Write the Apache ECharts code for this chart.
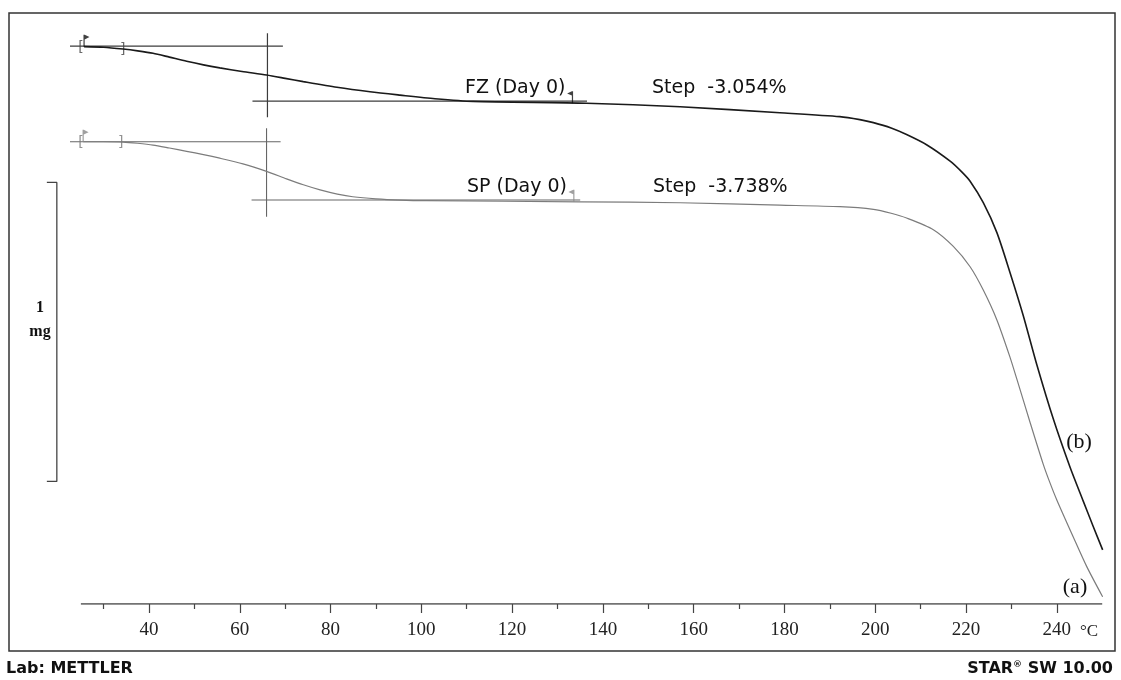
<!DOCTYPE html>
<html><head><meta charset="utf-8">
<script src="https://cdn.jsdelivr.net/npm/echarts@6/dist/echarts.min.js"></script>
<style>html,body{margin:0;padding:0;background:#fff}#c{width:1121px;height:680px}</style>
</head><body><div id="c"></div>
<script>
// ---- data (temperature in °C, mass in mg relative to the axis baseline) ----
const tempFZ = [25.7, 30.0, 34.3, 37.5, 40.9, 44.5, 48.3, 52.0, 55.6, 60.5, 65.9, 70.0, 74.0, 81.4, 88.7, 95.3, 103.0, 111.4, 136.4, 157.0, 179.0, 192.2, 196.6, 199.6, 203.5, 206.9, 211.3, 216.5, 219.0, 220.9, 223.8, 226.8, 229.7, 232.6, 235.6, 239.2, 242.9, 245.8, 248.0, 250.1];
const massFZ = [1.864, 1.862, 1.856, 1.850, 1.842, 1.829, 1.815, 1.803, 1.793, 1.781, 1.769, 1.758, 1.747, 1.728, 1.713, 1.702, 1.690, 1.681, 1.675, 1.663, 1.643, 1.630, 1.620, 1.610, 1.592, 1.570, 1.536, 1.481, 1.446, 1.414, 1.342, 1.242, 1.108, 0.965, 0.800, 0.620, 0.458, 0.345, 0.260, 0.181];
const tempSP = [25.5, 30.0, 34.3, 37.5, 40.9, 44.5, 48.3, 52.0, 55.6, 60.7, 65.9, 70.3, 74.0, 77.7, 81.5, 84.9, 90.0, 95.3, 101.2, 135.0, 157.0, 179.0, 192.2, 199.6, 203.5, 206.9, 212.8, 217.2, 220.9, 223.8, 226.8, 229.7, 231.2, 234.1, 237.0, 238.5, 240.0, 243.6, 246.6, 250.1];
const massSP = [1.546, 1.546, 1.545, 1.541, 1.535, 1.525, 1.514, 1.503, 1.491, 1.472, 1.447, 1.422, 1.402, 1.385, 1.371, 1.362, 1.355, 1.351, 1.349, 1.345, 1.342, 1.334, 1.329, 1.320, 1.307, 1.291, 1.252, 1.196, 1.128, 1.050, 0.950, 0.825, 0.752, 0.608, 0.468, 0.405, 0.348, 0.225, 0.125, 0.024];
const majorTicks = [40, 60, 80, 100, 120, 140, 160, 180, 200, 220, 240];
const minorTicks = [30, 50, 70, 90, 110, 130, 150, 170, 190, 210, 230];
const axisLineT = [25, 250];
const axisLineMg = [0, 0];
// step-evaluation construction lines [°C, mg]
const fzBaseline = [[22.6, 1.866], [69.5, 1.866]];
const fzVertical = [[66.1, 1.909], [66.1, 1.628]];
const fzFinal = [[62.8, 1.682], [136.5, 1.682]];
const spBaseline = [[22.6, 1.546], [69.0, 1.546]];
const spVertical = [[65.9, 1.591], [65.9, 1.295]];
const spFinal = [[62.6, 1.351], [135.0, 1.351]];
const fzLimits = [[25.0, 1.862, '['], [34.2, 1.855, ']']];
const spLimits = [[25.0, 1.545, '['], [33.8, 1.545, ']']];
const startFlags = [[25.7, 1.864], [25.5, 1.546]];
const labelFlags = [[133.3, 1.675], [133.6, 1.345]];
const scaleBarT = [17.5, 19.7, 19.7, 17.5];
const scaleBarMg = [1.41, 1.41, 0.41, 0.41];

const pts = (t, m) => t.map((x, i) => [x, m[i]]);
const chart = echarts.init(document.getElementById('c'));
const lineSeg = (data, color, width) => ({
  type: 'line', data, showSymbol: false, silent: true,
  lineStyle: { color, width }, z: 2
});
const flagR = 'path://M0,0 L1.2,0 L1.2,12 L0,12 Z M1.2,0 L6,2.4 L1.2,4.8 Z';
const flagL = 'path://M4.8,0 L6,0 L6,12 L4.8,12 Z M4.8,0 L0,2.2 L4.8,4.4 Z';
const bracketSeries = (arr, color) => ({
  type: 'scatter', silent: true, symbolSize: 0,
  data: arr.map(d => ({ value: [d[0], d[1]], txt: d[2] })),
  label: { show: true, position: 'inside', formatter: p => p.data.txt,
    fontFamily: 'DejaVu Sans', fontSize: 14, color }
});

chart.setOption({
  animation: false,
  backgroundColor: '#fff',
  grid: { left: 35.5, right: 18.8, top: 6, bottom: 76 },
  xAxis: [{
    type: 'value', min: 15, max: 250, position: 'bottom',
    axisLine: { show: false },
    axisTick: { show: true, customValues: majorTicks, length: 9, lineStyle: { color: '#444', width: 1.2 } },
    axisLabel: { show: true, customValues: majorTicks, margin: 17, fontFamily: 'Liberation Serif', fontSize: 19, color: '#222' },
    splitLine: { show: false }
  }, {
    type: 'value', min: 15, max: 250, position: 'bottom', gridIndex: 0,
    axisLine: { show: false },
    axisTick: { show: true, customValues: minorTicks, length: 5, lineStyle: { color: '#444', width: 1.2 } },
    axisLabel: { show: false },
    splitLine: { show: false }
  }],
  yAxis: { type: 'value', min: 0, max: 2, show: false },
  series: [
    { type: 'line', data: pts(tempSP, massSP), showSymbol: false, smooth: 0.25, silent: true,
      lineStyle: { color: '#7c7c7c', width: 1.2 }, z: 3 },
    { type: 'line', data: pts(tempFZ, massFZ), showSymbol: false, smooth: 0.25, silent: true,
      lineStyle: { color: '#1a1a1a', width: 1.6 }, z: 4 },
    lineSeg(pts(axisLineT, axisLineMg), '#444', 1.4),
    lineSeg(fzBaseline, '#3c3c3c', 1.2),
    lineSeg(fzVertical, '#3c3c3c', 1.2),
    lineSeg(fzFinal, '#3c3c3c', 1.2),
    lineSeg(spBaseline, '#666', 1.1),
    lineSeg(spVertical, '#666', 1.1),
    lineSeg(spFinal, '#666', 1.1),
    lineSeg(pts(scaleBarT, scaleBarMg), '#444', 1.3),
    bracketSeries(fzLimits, '#444'),
    bracketSeries(spLimits, '#777'),
    { type: 'scatter', silent: true, symbol: flagR, symbolSize: [6, 12], symbolOffset: [2.4, -6],
      data: startFlags.map((d, i) => ({ value: d, itemStyle: { color: i === 0 ? '#111' : '#888' } })), z: 5 },
    { type: 'scatter', silent: true, symbol: flagL, symbolSize: [6, 12], symbolOffset: [-2.4, -6],
      data: labelFlags.map((d, i) => ({ value: d, itemStyle: { color: i === 0 ? '#111' : '#888' } })), z: 5 }
  ],
  graphic: [
    { type: 'rect', shape: { x: 9, y: 13, width: 1106, height: 638 }, style: { fill: 'none', stroke: '#333', lineWidth: 1.5 }, z: 0, silent: true },
    { type: 'text', x: 465, y: 88, style: { text: 'FZ (Day 0)', font: '19px "DejaVu Sans"', fill: '#111', textVerticalAlign: 'middle' } },
    { type: 'text', x: 652, y: 88, style: { text: 'Step  -3.054%', font: '19px "DejaVu Sans"', fill: '#111', textVerticalAlign: 'middle' } },
    { type: 'text', x: 467, y: 187, style: { text: 'SP (Day 0)', font: '19px "DejaVu Sans"', fill: '#111', textVerticalAlign: 'middle' } },
    { type: 'text', x: 653, y: 187, style: { text: 'Step  -3.738%', font: '19px "DejaVu Sans"', fill: '#111', textVerticalAlign: 'middle' } },
    { type: 'text', x: 1079, y: 442, style: { text: '(b)', font: '22px "Liberation Serif"', fill: '#111', textAlign: 'center', textVerticalAlign: 'middle' } },
    { type: 'text', x: 1075, y: 587, style: { text: '(a)', font: '22px "Liberation Serif"', fill: '#111', textAlign: 'center', textVerticalAlign: 'middle' } },
    { type: 'text', x: 1080, y: 632, style: { text: '°C', font: '17px "Liberation Serif"', fill: '#222', textVerticalAlign: 'middle' } },
    { type: 'text', x: 40, y: 308, style: { text: '1', font: 'bold 16px "Liberation Serif"', fill: '#111', textAlign: 'center', textVerticalAlign: 'middle' } },
    { type: 'text', x: 40, y: 332, style: { text: 'mg', font: 'bold 16px "Liberation Serif"', fill: '#111', textAlign: 'center', textVerticalAlign: 'middle' } },
    { type: 'text', x: 6, y: 669, style: { text: 'Lab: METTLER', font: 'bold 16px "DejaVu Sans"', fill: '#111', textVerticalAlign: 'middle' } },
    { type: 'text', x: 1113, y: 669, style: {
        text: '{b|STAR}{s|®}{b| SW 10.00}', textAlign: 'right', textVerticalAlign: 'middle',
        rich: { b: { font: 'bold 16px "DejaVu Sans"', fill: '#111' }, s: { font: 'bold 9px "DejaVu Sans"', fill: '#111', padding: [0, 0, 8, 0] } } } }
  ]
});
</script>
</body></html>
